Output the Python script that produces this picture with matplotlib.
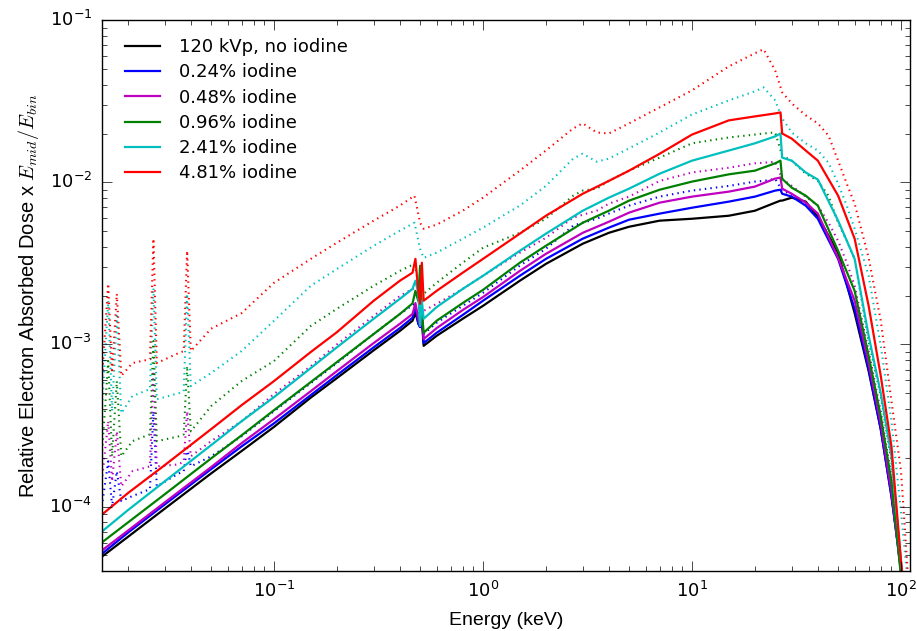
import matplotlib
matplotlib.use("Agg")
import matplotlib.pyplot as plt

plt.style.use("classic")
plt.rcParams["mathtext.fontset"] = "cm"
plt.rcParams["figure.facecolor"] = "white"
plt.rcParams["savefig.facecolor"] = "white"

# ── Solid curves (electron dose spectra) ────────────────────────────────────
energy = [0.015, 0.02, 0.03, 0.05, 0.07, 0.1, 0.15, 0.2, 0.3, 0.4,
          0.46, 0.475, 0.49, 0.5, 0.51, 0.52, 0.6, 0.8, 1, 1.5,
          2, 3, 4, 5, 7, 10, 15, 20, 25, 26.5,
          27, 30, 35, 40, 50, 60, 70, 80, 90, 100, 110]

dose_none = [4.9e-5, 6.5e-5, 9.7e-5, 1.6e-4, 2.2e-4, 3.1e-4, 4.7e-4, 6.2e-4, 9.2e-4, 1.21e-3,
             1.40e-3, 1.56e-3, 1.36e-3, 1.28e-3, 1.44e-3, 9.8e-4, 1.13e-3, 1.44e-3, 1.73e-3, 2.47e-3,
             3.14e-3, 4.18e-3, 4.88e-3, 5.32e-3, 5.80e-3, 5.96e-3, 6.22e-3, 6.68e-3, 7.49e-3, 7.71e-3,
             7.71e-3, 8.04e-3, 7.60e-3, 6.14e-3, 3.68e-3, 1.56e-3, 6.85e-4, 3.0e-4, 1.16e-4, 4.26e-5, 1.46e-5]
dose_024 = [5.1e-5, 6.9e-5, 1.03e-4, 1.70e-4, 2.35e-4, 3.26e-4, 4.87e-4, 6.47e-4, 9.6e-4, 1.26e-3,
            1.46e-3, 1.73e-3, 1.34e-3, 1.28e-3, 1.50e-3, 1.02e-3, 1.18e-3, 1.52e-3, 1.86e-3, 2.65e-3,
            3.37e-3, 4.49e-3, 5.25e-3, 5.88e-3, 6.41e-3, 6.97e-3, 7.60e-3, 8.16e-3, 8.89e-3, 9.0e-3,
            8.5e-3, 8.16e-3, 7.18e-3, 5.96e-3, 3.37e-3, 1.66e-3, 7.05e-4, 3.0e-4, 1.16e-4, 4.1e-5, 1.2e-5]
dose_048 = [5.35e-5, 7.1e-5, 1.06e-4, 1.75e-4, 2.46e-4, 3.46e-4, 5.15e-4, 6.85e-4, 1.02e-3, 1.34e-3,
            1.54e-3, 1.80e-3, 1.44e-3, 1.30e-3, 1.56e-3, 1.08e-3, 1.26e-3, 1.63e-3, 1.96e-3, 2.84e-3,
            3.62e-3, 4.88e-3, 5.71e-3, 6.50e-3, 7.49e-3, 8.16e-3, 8.76e-3, 9.41e-3, 1.054e-2, 1.07e-2,
            9.14e-3, 8.5e-3, 7.49e-3, 6.41e-3, 3.42e-3, 1.86e-3, 7.67e-4, 3.26e-4, 1.24e-4, 3.9e-5, 1.2e-5]
dose_096 = [6.0e-5, 7.97e-5, 1.19e-4, 1.98e-4, 2.75e-4, 3.93e-4, 5.86e-4, 7.78e-4, 1.16e-3, 1.54e-3,
            1.79e-3, 2.14e-3, 1.86e-3, 3.06e-3, 1.61e-3, 1.18e-3, 1.40e-3, 1.80e-3, 2.17e-3, 3.19e-3,
            4.06e-3, 5.63e-3, 6.68e-3, 7.71e-3, 9.0e-3, 1.01e-2, 1.12e-2, 1.18e-2, 1.31e-2, 1.36e-2,
            1.05e-2, 9.27e-3, 8.27e-3, 7.18e-3, 3.78e-3, 2.14e-3, 8.5e-4, 3.6e-4, 1.43e-4, 3.7e-5, 1.2e-5]
dose_241 = [7.0e-5, 9.5e-5, 1.43e-4, 2.39e-4, 3.36e-4, 4.73e-4, 7.15e-4, 9.6e-4, 1.44e-3, 1.91e-3,
            2.20e-3, 2.47e-3, 2.08e-3, 1.30e-3, 1.86e-3, 1.44e-3, 1.70e-3, 2.20e-3, 2.65e-3, 3.78e-3,
            4.82e-3, 6.68e-3, 8.04e-3, 9.14e-3, 1.13e-2, 1.36e-2, 1.57e-2, 1.74e-2, 1.92e-2, 2.0e-2,
            1.42e-2, 1.36e-2, 1.15e-2, 1.04e-2, 5.80e-3, 3.37e-3, 1.13e-3, 5.0e-4, 2.04e-4, 4.6e-5, 1.3e-5]
dose_481 = [8.9e-5, 1.21e-4, 1.80e-4, 3.0e-4, 4.22e-4, 5.94e-4, 8.98e-4, 1.19e-3, 1.86e-3, 2.47e-3,
            2.77e-3, 3.37e-3, 2.14e-3, 1.78e-3, 3.19e-3, 1.86e-3, 2.14e-3, 2.77e-3, 3.37e-3, 4.82e-3,
            6.22e-3, 8.5e-3, 1.02e-2, 1.18e-2, 1.50e-2, 1.97e-2, 2.41e-2, 2.55e-2, 2.66e-2, 2.70e-2,
            2.0e-2, 1.86e-2, 1.57e-2, 1.36e-2, 8.27e-3, 4.49e-3, 1.73e-3, 6.4e-4, 2.35e-4, 4.6e-5, 1.4e-5]

# ── Dotted curves ───────────────────────────────────────────────────────────
energy_dot = [0.015, 0.0161, 0.0168, 0.0177, 0.0186, 0.021, 0.0255, 0.0265, 0.0275, 0.035,
              0.037, 0.0384, 0.040, 0.05, 0.07, 0.1, 0.15, 0.2, 0.3, 0.4,
              0.47, 0.5, 0.52, 0.6, 0.8, 1, 1.5, 2, 2.7, 3,
              3.5, 4, 5, 7, 10, 15, 20, 22, 25, 27,
              30, 35, 40, 45, 50, 55, 60, 70, 80, 90, 100, 110]

dot_024 = [1.0e-4, 1.90e-4, 1.0e-4, 1.65e-4, 1.08e-4, 1.16e-4, 1.28e-4, 3.87e-4, 1.33e-4, 1.6e-4,
           1.65e-4, 2.29e-4, 1.77e-4, 2.04e-4, 2.71e-4, 3.87e-4, 5.77e-4, 7.67e-4, 1.16e-3, 1.54e-3,
           1.78e-3, 1.44e-3, 1.16e-3, 1.36e-3, 1.73e-3, 2.08e-3, 3.06e-3, 3.89e-3, 5.40e-3, 5.63e-3,
           5.96e-3, 6.41e-3, 7.18e-3, 8.16e-3, 8.89e-3, 9.5e-3, 1.01e-2, 1.02e-2, 1.05e-2, 8.89e-3,
           8.4e-3, 7.38e-3, 6.22e-3, 4.68e-3, 3.52e-3, 2.47e-3, 1.86e-3, 7.67e-4, 3.26e-4, 1.24e-4, 3.9e-5, 1.46e-5]
dot_048 = [1.43e-4, 3.36e-4, 1.43e-4, 2.91e-4, 1.33e-4, 1.65e-4, 1.77e-4, 6.85e-4, 1.77e-4, 1.82e-4,
           1.90e-4, 3.87e-4, 2.04e-4, 2.53e-4, 3.36e-4, 4.94e-4, 7.35e-4, 1.0e-3, 1.50e-3, 1.99e-3,
           2.23e-3, 1.73e-3, 1.61e-3, 1.78e-3, 2.20e-3, 2.65e-3, 3.68e-3, 4.55e-3, 6.05e-3, 6.31e-3,
           6.68e-3, 7.38e-3, 8.16e-3, 1.02e-2, 1.15e-2, 1.23e-2, 1.31e-2, 1.32e-2, 1.34e-2, 1.05e-2,
           9.5e-3, 8.16e-3, 7.18e-3, 5.63e-3, 4.36e-3, 3.19e-3, 2.30e-3, 9.1e-4, 3.87e-4, 1.54e-4, 3.9e-5, 1.46e-5]
dot_096 = [2.04e-4, 7.9e-4, 2.04e-4, 5.94e-4, 2.04e-4, 2.53e-4, 2.79e-4, 1.05e-3, 2.53e-4, 2.71e-4,
           2.79e-4, 7.35e-4, 2.91e-4, 4.16e-4, 5.94e-4, 7.9e-4, 1.30e-3, 1.66e-3, 2.30e-3, 2.84e-3,
           3.14e-3, 2.14e-3, 2.05e-3, 2.40e-3, 3.19e-3, 3.95e-3, 4.88e-3, 5.96e-3, 8.27e-3, 8.89e-3,
           9.14e-3, 1.02e-2, 1.18e-2, 1.42e-2, 1.74e-2, 1.89e-2, 1.97e-2, 2.0e-2, 2.03e-2, 1.46e-2,
           1.36e-2, 1.13e-2, 1.02e-2, 8.27e-3, 5.63e-3, 4.36e-3, 3.37e-3, 1.05e-3, 4.8e-4, 1.90e-4, 3.9e-5, 1.46e-5]
dot_241 = [3.87e-4, 1.86e-3, 3.87e-4, 1.50e-3, 3.76e-4, 4.8e-4, 5.3e-4, 2.23e-3, 4.59e-4, 5.0e-4,
           5.15e-4, 2.05e-3, 5.53e-4, 6.66e-4, 9.1e-4, 1.40e-3, 2.30e-3, 2.92e-3, 4.06e-3, 5.03e-3,
           5.63e-3, 3.89e-3, 3.42e-3, 3.68e-3, 4.49e-3, 5.25e-3, 7.18e-3, 9.5e-3, 1.40e-2, 1.50e-2,
           1.34e-2, 1.40e-2, 1.62e-2, 2.03e-2, 2.62e-2, 3.20e-2, 3.64e-2, 3.85e-2, 3.20e-2, 2.48e-2,
           2.03e-2, 1.74e-2, 1.57e-2, 1.32e-2, 9.8e-3, 7.18e-3, 5.17e-3, 2.65e-3, 9.8e-4, 3.36e-4, 9.3e-5, 2.6e-5]
dot_481 = [5.94e-4, 2.37e-3, 6.66e-4, 2.05e-3, 6.4e-4, 7.67e-4, 8.1e-4, 4.49e-3, 7.67e-4, 8.85e-4,
           9.1e-4, 3.78e-3, 9.1e-4, 1.25e-3, 1.56e-3, 2.40e-3, 3.37e-3, 4.24e-3, 5.80e-3, 7.18e-3,
           8.27e-3, 5.63e-3, 5.17e-3, 5.48e-3, 6.68e-3, 8.04e-3, 1.18e-2, 1.57e-2, 2.15e-2, 2.31e-2,
           2.03e-2, 2.0e-2, 2.31e-2, 2.90e-2, 3.69e-2, 5.19e-2, 6.25e-2, 6.62e-2, 4.90e-2, 3.59e-2,
           3.07e-2, 2.59e-2, 2.31e-2, 1.94e-2, 1.36e-2, 9.8e-3, 7.38e-3, 3.42e-3, 1.40e-3, 4.47e-4, 1.65e-4, 2.6e-5]

labels = ["120 kVp, no iodine", "0.24% iodine", "0.48% iodine",
          "0.96% iodine", "2.41% iodine", "4.81% iodine"]
colors = ["k", "b", "m", "g", "c", "r"]

# ── Plot ────────────────────────────────────────────────────────────────────
fig = plt.figure(figsize=(9.17, 6.31), dpi=100)
ax = fig.add_axes([0.111, 0.095, 0.881, 0.873])

solid = [dose_none, dose_024, dose_048, dose_096, dose_241, dose_481]
dotted = [dot_024, dot_048, dot_096, dot_241, dot_481]

for vals, c in zip(dotted, colors[1:]):
    ax.plot(energy_dot, vals, ":", color=c, linewidth=1.5)
for vals, c, lab in zip(solid, colors, labels):
    ax.plot(energy, vals, "-", color=c, linewidth=1.6, label=lab)

ax.set_xscale("log")
ax.set_yscale("log")
ax.set_xlim(0.015, 110)
ax.set_ylim(4e-5, 1e-1)

ax.tick_params(which="major", length=7, labelsize=13, pad=7)
ax.tick_params(which="minor", length=3.5)

# the axis titles use a narrower face than the ticks
ax.set_xlabel("Energy (keV)", fontsize=14, family="Liberation Sans", labelpad=8)
ax.set_ylabel(r"Relative Electron Absorbed Dose x $E_{mid}/E_{bin}$",
              fontsize=14.5, family="Liberation Sans", labelpad=6)

ax.legend(loc="upper left", frameon=False, fontsize=13, handlelength=2.5,
          handletextpad=0.8, labelspacing=0.4, borderaxespad=0.6, numpoints=2)

fig.savefig("out.png", dpi=100)
